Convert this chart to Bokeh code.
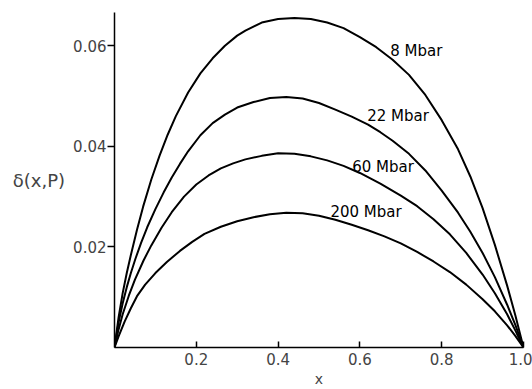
from bokeh.plotting import figure
from bokeh.models import FixedTicker, PrintfTickFormatter, Label, Range1d
from bokeh.embed import file_html
from bokeh.resources import INLINE

# --- data ---
x8 = [0, 0.01, 0.02, 0.03, 0.04, 0.055, 0.07, 0.09, 0.11, 0.13, 0.15, 0.18, 0.21, 0.24, 0.27,
      0.30, 0.32, 0.36, 0.40, 0.44, 0.48, 0.52, 0.56, 0.60, 0.64, 0.68, 0.72, 0.76, 0.80,
      0.84, 0.87, 0.90, 0.93, 0.96, 0.98, 1.0]
y8 = [0, 0.0060, 0.0108, 0.0148, 0.0184, 0.0234, 0.0280, 0.0334, 0.0381, 0.0423, 0.0460, 0.0507, 0.0545, 0.0575, 0.0600,
      0.0620, 0.0630, 0.0646, 0.0653, 0.0655, 0.0653, 0.0646, 0.0635, 0.0617, 0.0597, 0.0572, 0.0542, 0.0502, 0.0452,
      0.0394, 0.0340, 0.0277, 0.0204, 0.0123, 0.0064, 0]

x22 = [0, 0.01, 0.02, 0.03, 0.04, 0.051, 0.065, 0.08, 0.10, 0.12, 0.14, 0.16, 0.18, 0.21, 0.24, 0.27,
       0.30, 0.34, 0.38, 0.42, 0.46, 0.50, 0.54, 0.58, 0.62, 0.65, 0.68, 0.72, 0.76, 0.80,
       0.84, 0.87, 0.90, 0.93, 0.96, 0.98, 1.0]
y22 = [0, 0.0050, 0.0088, 0.0120, 0.0148, 0.0176, 0.0208, 0.0239, 0.0275, 0.0308, 0.0338, 0.0365, 0.0390, 0.0422, 0.0446, 0.0463,
       0.0477, 0.0488, 0.0496, 0.0498, 0.0495, 0.0486, 0.0473, 0.0459, 0.0443, 0.0428, 0.0411, 0.0385, 0.0352, 0.0312,
       0.0268, 0.0230, 0.0188, 0.0140, 0.0085, 0.0045, 0]

x60 = [0, 0.01, 0.02, 0.035, 0.05, 0.071, 0.09, 0.115, 0.14, 0.17, 0.20, 0.23, 0.26, 0.29, 0.32,
       0.36, 0.40, 0.44, 0.48, 0.52, 0.56, 0.60, 0.65, 0.70, 0.74, 0.78, 0.82, 0.86, 0.90,
       0.93, 0.96, 0.98, 1.0]
y60 = [0, 0.0036, 0.0066, 0.0103, 0.0135, 0.0173, 0.0203, 0.0238, 0.0269, 0.0300, 0.0324, 0.0342, 0.0356, 0.0366, 0.0374,
       0.0381, 0.0386, 0.0385, 0.0380, 0.0372, 0.0361, 0.0347, 0.0326, 0.0302, 0.0281, 0.0255, 0.0225, 0.0188, 0.0145,
       0.0108, 0.0066, 0.0034, 0]

x200 = [0, 0.01, 0.025, 0.04, 0.055, 0.075, 0.10, 0.128, 0.16, 0.19, 0.22, 0.26, 0.30, 0.34, 0.38,
        0.42, 0.46, 0.50, 0.54, 0.58, 0.62, 0.66, 0.70, 0.74, 0.78, 0.82, 0.86, 0.90, 0.93,
        0.96, 0.98, 1.0]
y200 = [0, 0.0022, 0.0052, 0.0078, 0.0102, 0.0125, 0.0148, 0.0170, 0.0192, 0.0210, 0.0226, 0.0240, 0.0251, 0.0259, 0.0265,
        0.0268, 0.0267, 0.0262, 0.0254, 0.0244, 0.0233, 0.0221, 0.0207, 0.0190, 0.0171, 0.0150, 0.0125, 0.0096, 0.0072,
        0.0044, 0.0023, 0]

labels = ["8 Mbar", "22 Mbar", "60 Mbar", "200 Mbar"]
label_x = [0.674, 0.618, 0.581, 0.528]
label_y = [0.059, 0.0461, 0.0358, 0.0269]

x_ticks = [0.2, 0.4, 0.6, 0.8, 1.0]
y_ticks = [0.02, 0.04, 0.06]

FONT = "DejaVu Sans"

p = figure(width=532, height=389, output_backend="svg", toolbar_location=None,
           x_range=Range1d(0, 1.0), y_range=Range1d(0, 0.0666),
           min_border_left=114, min_border_right=9, min_border_top=12, min_border_bottom=41)
p.outline_line_color = None
p.xgrid.visible = False
p.ygrid.visible = False
p.background_fill_color = "white"
p.border_fill_color = "white"

for xs, ys in [(x8, y8), (x22, y22), (x60, y60), (x200, y200)]:
    p.line(xs, ys, line_color="black", line_width=2, line_join="round")

for t, lx, ly in zip(labels, label_x, label_y):
    p.add_layout(Label(x=lx, y=ly, text=t, text_font=FONT, text_font_size="15px",
                       text_color="black", text_baseline="middle", text_align="left"))

xa = p.xaxis[0]
xa.ticker = FixedTicker(ticks=x_ticks)
xa.formatter = PrintfTickFormatter(format="%.1f")
xa.minor_tick_line_color = None
xa.major_tick_in = 6
xa.major_tick_out = 0
xa.axis_line_width = 1.5
xa.major_tick_line_width = 1.5
xa.major_label_text_font = FONT
xa.major_label_text_font_size = "15px"
xa.major_label_standoff = 5
xa.axis_label = "x"
xa.axis_label_text_font = FONT
xa.axis_label_text_font_size = "14px"
xa.axis_label_text_font_style = "normal"
xa.axis_label_standoff = 3

ya = p.yaxis[0]
ya.ticker = FixedTicker(ticks=y_ticks)
ya.formatter = PrintfTickFormatter(format="%.2f")
ya.minor_tick_line_color = None
ya.major_tick_in = 0
ya.major_tick_out = 7
ya.axis_line_width = 1.5
ya.major_tick_line_width = 1.5
ya.major_label_text_font = FONT
ya.major_label_text_font_size = "15px"
ya.major_label_standoff = 1
ya.axis_label = "δ(x,P)"
ya.axis_label_text_font = FONT
ya.axis_label_text_font_size = "18px"
ya.axis_label_text_font_style = "normal"
ya.axis_label_standoff = 5
try:
    ya.axis_label_orientation = "horizontal"
except Exception:
    pass

open("out.html", "w").write(file_html(p, INLINE))
